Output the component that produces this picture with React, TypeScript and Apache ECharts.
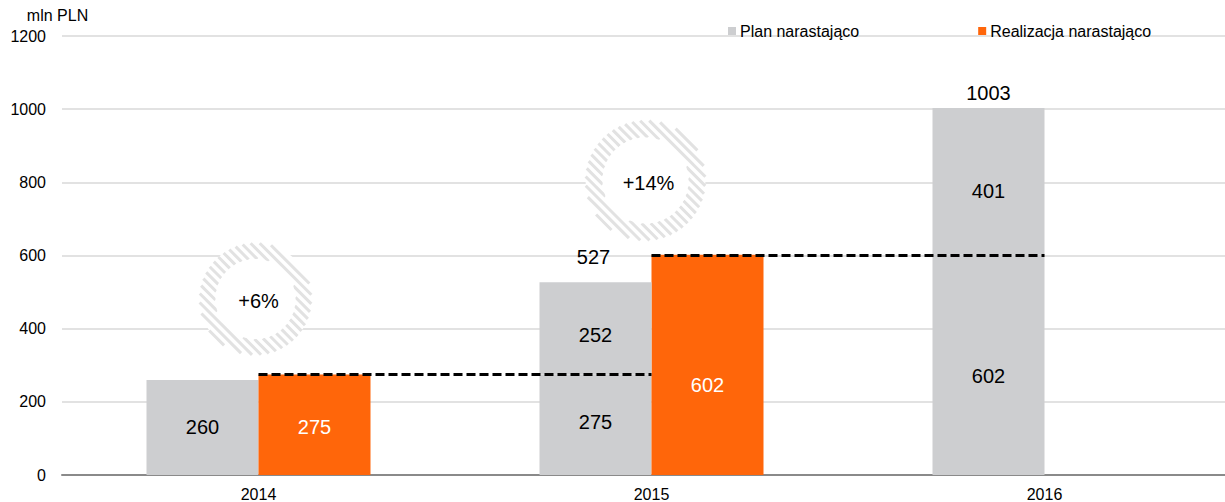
import React, { useEffect, useRef } from 'react';
import * as echarts from 'echarts';

const categories = ['2014', '2015', '2016'];
const planBase = [260, 275, 602];
const planTop: (number | null)[] = [null, 252, 401];
const planTotal: (number | null)[] = [null, 527, 1003];
const realizacja: (number | null)[] = [275, 602, null];
const growthLabels = ['+6%', '+14%'];
const growthAnchors: [string, number][] = [['2014', 481], ['2015', 805]];
const yMin = 0;
const yMax = 1200;
const yStep = 200;

const FONT = '"Liberation Sans", Arial, sans-serif';
const GRAY = '#cdced0';
const ORANGE = '#ff660a';

// small label nudges & ring styling (style only)
const baseShift = [0, -3, 11];
const topShift = [0, 7, 10];
const realShift = [2, 20, 0];
const totalShift: [number, number][] = [[0, 0], [-2, -10], [0, 0]];
const ringShiftX = [-3, -6];
const ringOuter = [56, 60];
const ringInner = [40, 43];

export default function App() {
  const ref = useRef<HTMLDivElement>(null);
  useEffect(() => {
    if (!ref.current) return;
    const chart = echarts.init(ref.current, undefined, { renderer: 'svg' });

    const dashData: any[] = [];
    realizacja.forEach((v, i) => {
      if (v != null && i + 1 < categories.length) {
        dashData.push([{ coord: [categories[i], v] }, { coord: [categories[i + 1], v] }]);
      }
    });

    const inLabel = (color: string) => ({
      show: true,
      position: 'inside' as const,
      color,
      fontSize: 20,
      fontFamily: FONT,
    });

    const renderRing = (params: any, api: any) => {
      const idx = params.dataIndex;
      const pt = api.coord([api.value(0), api.value(1)]);
      const cx = pt[0] + ringShiftX[idx];
      const cy = pt[1];
      const R = ringOuter[idx];
      const r = ringInner[idx];
      const children: any[] = [];
      children.push({ type: 'circle', shape: { cx, cy, r: R }, style: { fill: '#fff' } });
      const s = Math.SQRT1_2;
      const step = 6.5;
      for (let d = -R + 1; d <= R - 1; d += step) {
        const outerT = Math.sqrt(R * R - d * d);
        const segs: [number, number][] = [];
        if (Math.abs(d) < r) {
          const innerT = Math.sqrt(r * r - d * d);
          segs.push([-outerT, -innerT], [innerT, outerT]);
        } else {
          segs.push([-outerT, outerT]);
        }
        segs.forEach(([t0, t1]) => {
          const bx = cx + d * s;
          const by = cy - d * s;
          children.push({
            type: 'line',
            shape: { x1: bx + t0 * s, y1: by + t0 * s, x2: bx + t1 * s, y2: by + t1 * s },
            style: { stroke: '#e2e2e2', lineWidth: 3, lineCap: 'butt' },
          });
        });
      }
      children.push({ type: 'circle', shape: { cx, cy, r }, style: { fill: '#fff' } });
      children.push({
        type: 'text',
        x: cx + 3,
        y: cy + 2,
        style: {
          text: growthLabels[idx],
          fill: '#000',
          fontSize: 20,
          fontFamily: FONT,
          align: 'center',
          verticalAlign: 'middle',
        },
      });
      return { type: 'group', children };
    };

    const option: any = {
      animation: false,
      textStyle: { fontFamily: FONT },
      grid: { left: 62, right: 0, top: 36, bottom: 27, containLabel: false },
      legend: {
        left: 728,
        top: 23,
        padding: 0,
        itemWidth: 8,
        itemHeight: 8,
        itemGap: 119,
        icon: 'rect',
        textStyle: { fontSize: 16, color: '#000', fontFamily: FONT, padding: [0, 0, 0, -1] },
        data: ['Plan narastająco', 'Realizacja narastająco'],
        selectedMode: false,
      },
      xAxis: {
        type: 'category',
        data: categories,
        axisLine: { show: true, lineStyle: { color: '#8a8a8a', width: 2 } },
        axisTick: { show: false },
        axisLabel: { fontSize: 16, color: '#000', margin: 11, fontFamily: FONT },
        splitLine: { show: false },
      },
      yAxis: {
        type: 'value',
        min: yMin,
        max: yMax,
        interval: yStep,
        name: 'mln PLN',
        nameLocation: 'end',
        nameGap: 13,
        nameTextStyle: { fontSize: 16, color: '#000', fontFamily: FONT, align: 'center', padding: [0, 9, 0, 0] },
        axisLine: { show: false },
        axisTick: { show: false },
        axisLabel: {
          fontSize: 16,
          color: '#000',
          margin: 16,
          fontFamily: FONT,
          formatter: (v: number) => String(v),
        },
        splitLine: { lineStyle: { color: '#d9d9d9', width: 1.5 } },
      },
      series: [
        {
          name: 'Plan narastająco',
          type: 'bar',
          stack: 'plan',
          barWidth: 112,
          barGap: '0%',
          itemStyle: { color: GRAY },
          label: inLabel('#000'),
          data: planBase.map((v, i) => ({ value: v, label: { offset: [0, baseShift[i]] } })),
        },
        {
          name: 'Realizacja narastająco',
          type: 'bar',
          barWidth: 112,
          barGap: '0%',
          itemStyle: { color: ORANGE },
          label: inLabel('#fff'),
          data: realizacja.map((v, i) => (v == null ? '-' : { value: v, label: { offset: [0, realShift[i]] } })),
        },
        {
          name: 'Plan narastająco',
          type: 'bar',
          stack: 'plan',
          barWidth: 112,
          barGap: '0%',
          itemStyle: { color: GRAY },
          label: inLabel('#000'),
          data: planTop.map((v, i) => (v == null ? '-' : { value: v, label: { offset: [0, topShift[i]] } })),
        },
        {
          name: 'total',
          type: 'bar',
          stack: 'plan',
          barWidth: 112,
          barGap: '0%',
          itemStyle: { color: GRAY },
          label: {
            show: true,
            position: 'top',
            color: '#000',
            fontSize: 20,
            fontFamily: FONT,
            formatter: (p: any) => String(planTotal[p.dataIndex] ?? ''),
          },
          data: planTotal.map((v, i) => (v == null ? '-' : { value: 0, label: { offset: totalShift[i] } })),
        },
        {
          name: 'dash',
          type: 'line',
          showSymbol: false,
          silent: true,
          z: 10,
          lineStyle: { opacity: 0 },
          data: categories.map(() => '-'),
          markLine: {
            silent: true,
            symbol: ['none', 'none'],
            label: { show: false },
            lineStyle: { color: '#000', width: 3, type: [9, 4] },
            emphasis: { disabled: true },
            data: dashData,
            z: 10,
          },
        },
        {
          name: 'ring',
          type: 'custom',
          silent: true,
          z: 3,
          renderItem: renderRing,
          encode: { x: 0, y: 1 },
          data: growthAnchors,
        },
      ],
    };
    chart.setOption(option);
    return () => chart.dispose();
  }, []);

  return (
    <div
      ref={ref}
      style={{ position: 'fixed', left: 0, top: 0, width: 1241, height: 502, background: '#fff' }}
    />
  );
}
